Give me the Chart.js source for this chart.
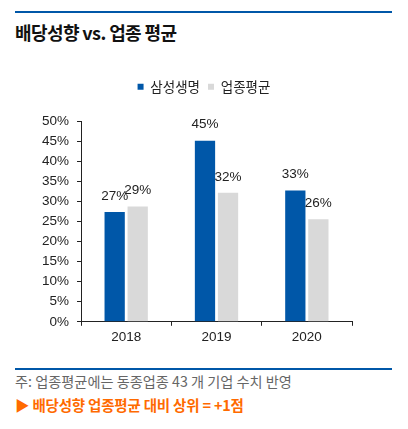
<!DOCTYPE html>
<html>
<head>
<meta charset="utf-8">
<script src="https://cdn.jsdelivr.net/npm/chart.js@4.4.1/dist/chart.umd.min.js"></script>
<style>
  body { margin: 0; background: #fff; width: 408px; height: 429px; position: relative; overflow: hidden;
         font-family: "Liberation Sans", "Noto Sans CJK KR", sans-serif; }
  .rule { position: absolute; left: 15px; width: 377px; height: 2px; background: #0057a8; }
  .title { position: absolute; left: 15px; top: 19px; font-family: "Noto Sans CJK KR", sans-serif;
           font-weight: bold; font-size: 18px; letter-spacing: -0.6px; color: #111; }
  .note { position: absolute; left: 15px; top: 371px; font-family: "Noto Sans CJK KR", sans-serif;
          font-size: 14.2px; color: #666; }
  .point { position: absolute; left: 15px; top: 394px; font-family: "Noto Sans CJK KR", sans-serif;
           font-size: 14.5px; font-weight: bold; color: #ff6a00; letter-spacing: -0.2px; }
  #wrap { position: absolute; left: 0; top: 68px; width: 408px; height: 285px; }
</style>
</head>
<body>
<div class="rule" style="top:11px"></div>
<div class="title">배당성향 vs. 업종 평균</div>
<div id="wrap"><canvas id="cjs"></canvas></div>
<div class="rule" style="top:368px"></div>
<div class="note">주: 업종평균에는 동종업종 43 개 기업 수치 반영</div>
<div class="point">▶ 배당성향 업종평균 대비 상위 = +1점</div>
<script>
const years = ['2018', '2019', '2020'];
const samsungLife = [27.4, 45.2, 32.8];
const industryAvg = [28.8, 32.2, 25.6];
const seriesNames = ['삼성생명', '업종평균'];

const fontFamily = '"Liberation Sans", "Noto Sans CJK KR", sans-serif';

// 막대 위 값 표시
const valueLabels = {
    id: 'valueLabels',
    afterDatasetsDraw(chart) {
        const ctx = chart.ctx;
        ctx.save();
        ctx.font = '13.5px ' + fontFamily;
        ctx.fillStyle = '#222';
        ctx.textAlign = 'center';
        ctx.textBaseline = 'middle';
        chart.data.datasets.forEach(function(ds, i) {
            chart.getDatasetMeta(i).data.forEach(function(bar, j) {
                ctx.fillText(Math.round(ds.data[j]) + '%', bar.x, bar.y - 16);
            });
        });
        ctx.restore();
    }
};

// 범례 아래 여백 + 가운데 정렬 보정
const legendGap = {
    id: 'legendGap',
    beforeInit(chart) {
        const fit = chart.legend.fit;
        chart.legend.fit = function() {
            fit.bind(chart.legend)();
            this.height += 18;
        };
    },
    afterLayout(chart) {
        chart.legend.left += 11;
        chart.legend.right += 11;
    }
};

const config = {
    type: 'bar',
    data: {
        labels: years,
        datasets: [
            { label: seriesNames[0], data: samsungLife, backgroundColor: '#0057a8' },
            { label: seriesNames[1], data: industryAvg, backgroundColor: '#d9d9d9' }
        ]
    },
    options: {
        responsive: true,
        maintainAspectRatio: false,
        animation: false,
        datasets: { bar: { categoryPercentage: 0.51, barPercentage: 0.88 } },
        layout: { padding: { left: 34, right: 56, top: 4, bottom: 5 } },
        plugins: {
            tooltip: { enabled: false },
            legend: {
                position: 'top',
                labels: {
                    boxWidth: 6, boxHeight: 6, padding: 8,
                    color: '#222',
                    font: { family: '"Noto Sans CJK KR", sans-serif', size: 13.5 }
                }
            }
        },
        scales: {
            x: {
                grid: { display: true, drawOnChartArea: false, drawTicks: true, tickLength: 4, color: '#222' },
                border: { color: '#222' },
                ticks: { color: '#222', padding: 3, font: { family: fontFamily, size: 13.5 } }
            },
            y: {
                min: 0, max: 50,
                grid: { display: true, drawOnChartArea: false, drawTicks: true, tickLength: 4, color: '#222' },
                border: { color: '#222' },
                ticks: {
                    stepSize: 5, color: '#222', padding: 8,
                    font: { family: fontFamily, size: 13.5 },
                    callback: function(v) { return v + '%'; }
                }
            }
        }
    },
    plugins: [valueLabels, legendGap]
};

new Chart(document.getElementById('cjs'), config);
</script>
</body>
</html>
